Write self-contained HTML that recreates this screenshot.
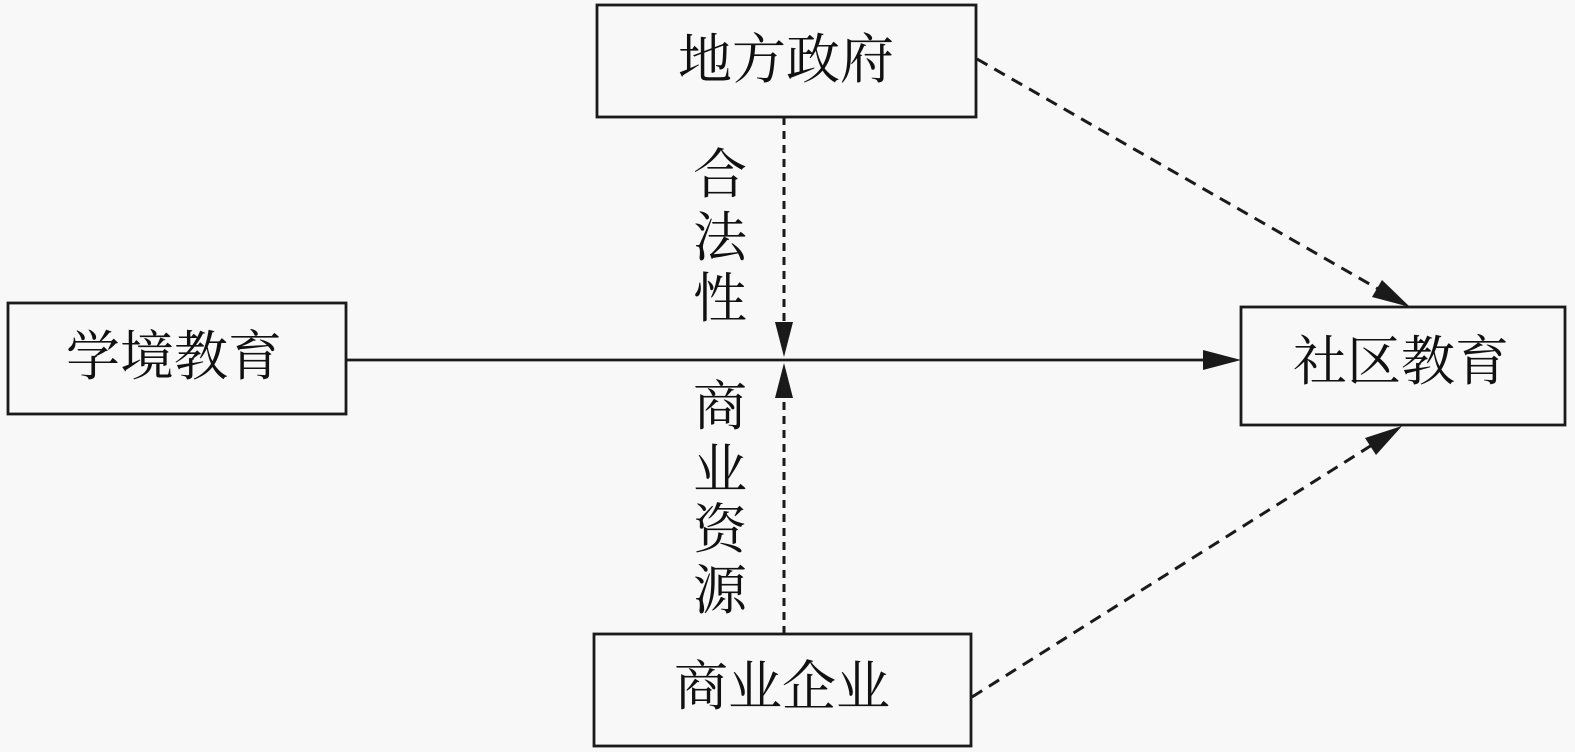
<!DOCTYPE html>
<html>
<head>
<meta charset="utf-8">
<style>
html,body{margin:0;padding:0;background:#f8f8f8;}
svg{display:block;}
text{font-family:"Liberation Serif","Noto Serif CJK SC","Noto Sans CJK SC",serif;font-size:54px;fill:#111;}
</style>
</head>
<body>
<svg width="1575" height="752" viewBox="0 0 1575 752" xmlns="http://www.w3.org/2000/svg">
<rect x="0" y="0" width="1575" height="752" fill="#f8f8f8"/>
<g fill="none" stroke="#1a1a1a" stroke-width="2.8">
<rect x="597" y="5" width="379" height="112"/>
<rect x="8" y="303" width="338" height="111"/>
<rect x="1241" y="307" width="324" height="118"/>
<rect x="594" y="634" width="377" height="112"/>
</g>
<!-- horizontal solid line -->
<line x1="346" y1="360" x2="1205" y2="360" stroke="#1a1a1a" stroke-width="2.8"/>
<polygon points="1241,360 1203,350 1203,370" fill="#1a1a1a"/>
<!-- vertical dashed lines -->
<line x1="784" y1="117" x2="784" y2="324" stroke="#1a1a1a" stroke-width="3" stroke-dasharray="8,6"/>
<polygon points="784,357 775,322 793,322" fill="#1a1a1a"/>
<line x1="784" y1="634" x2="784" y2="396" stroke="#1a1a1a" stroke-width="3" stroke-dasharray="8,6"/>
<polygon points="784,363 775,398 793,398" fill="#1a1a1a"/>
<!-- diagonal dashed lines -->
<line x1="977" y1="59" x2="1380" y2="290" stroke="#1a1a1a" stroke-width="3" stroke-dasharray="12,8"/>
<polygon points="1410,307 1372,297 1382,280" fill="#1a1a1a"/>
<line x1="972" y1="697" x2="1372" y2="445" stroke="#1a1a1a" stroke-width="3" stroke-dasharray="12,8"/>
<polygon points="1402,426 1376,455 1365,438" fill="#1a1a1a"/>
<!-- box labels -->
<text x="786" y="60" text-anchor="middle" dominant-baseline="central">地方政府</text>
<text x="174" y="357" text-anchor="middle" dominant-baseline="central">学境教育</text>
<text x="1401" y="362" text-anchor="middle" dominant-baseline="central">社区教育</text>
<text x="782" y="687" text-anchor="middle" dominant-baseline="central">商业企业</text>
<!-- vertical labels -->
<text x="720" y="175" text-anchor="middle" dominant-baseline="central">合</text>
<text x="720" y="238" text-anchor="middle" dominant-baseline="central">法</text>
<text x="720" y="299" text-anchor="middle" dominant-baseline="central">性</text>
<text x="720" y="407" text-anchor="middle" dominant-baseline="central">商</text>
<text x="720" y="470" text-anchor="middle" dominant-baseline="central">业</text>
<text x="720" y="530" text-anchor="middle" dominant-baseline="central">资</text>
<text x="720" y="591" text-anchor="middle" dominant-baseline="central">源</text>
</svg>
</body>
</html>
